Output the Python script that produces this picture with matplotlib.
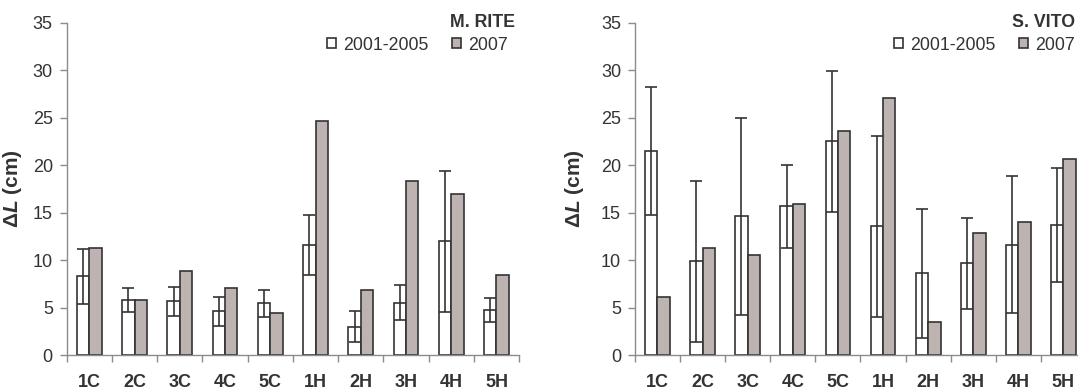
import numpy as np
import matplotlib
matplotlib.use("Agg")
from matplotlib import pyplot as plt
from matplotlib.patches import Patch

plt.rcParams["font.family"] = ["Liberation Sans", "DejaVu Sans"]
plt.rcParams["mathtext.fontset"] = "custom"
plt.rcParams["mathtext.it"] = "Liberation Sans:bold:italic"
plt.rcParams["mathtext.rm"] = "Liberation Sans:bold"

categories = ["1C", "2C", "3C", "4C", "5C", "1H", "2H", "3H", "4H", "5H"]
series_labels = ["2001-2005", "2007"]

# M. RITE
rite_mean = [8.3, 5.8, 5.65, 4.6, 5.45, 11.6, 3.0, 5.5, 11.95, 4.75]
rite_sd = [2.9, 1.3, 1.55, 1.5, 1.4, 3.15, 1.6, 1.85, 7.4, 1.25]
rite_2007 = [11.25, 5.8, 8.8, 7.05, 4.4, 24.6, 6.85, 18.3, 16.9, 8.45]

# S. VITO
vito_mean = [21.45, 9.85, 14.6, 15.65, 22.5, 13.55, 8.6, 9.65, 11.6, 13.7]
vito_sd = [6.75, 8.45, 10.4, 4.4, 7.4, 9.5, 6.8, 4.8, 7.2, 6.0]
vito_2007 = [6.15, 11.25, 10.55, 15.85, 23.55, 27.1, 3.5, 12.85, 14.05, 20.6]

panels = [("M. RITE", rite_mean, rite_sd, rite_2007),
          ("S. VITO", vito_mean, vito_sd, vito_2007)]

gray_fill = "#bdb4b1"
edge = "#333333"
spine = "#8c8c8c"
txt = "#333333"

fig = plt.figure(figsize=(10.78, 3.90), dpi=100)

# axes boxes, title / legend anchors and y-label x, in figure fractions
layout = [
    dict(box=[0.0619, 0.0897, 0.4196, 0.8526], title_x=0.4777, legend_x=0.4712, ylab_x=0.0218),
    dict(box=[0.5890, 0.0897, 0.4184, 0.8526], title_x=0.9972, legend_x=0.9972, ylab_x=0.5440),
]

w = 0.275
x = np.arange(len(categories))

for lay, (name, mean, sd, y07) in zip(layout, panels):
    ax = fig.add_axes(lay["box"])
    ax.bar(x - w / 2, mean, w, color="white", edgecolor=edge, linewidth=1.2, zorder=2)
    ax.bar(x + w / 2, y07, w, color=gray_fill, edgecolor=edge, linewidth=1.2, zorder=2)
    ax.errorbar(x - w / 2, mean, yerr=sd, fmt="none", ecolor=edge,
                elinewidth=1.2, capsize=4.3, capthick=1.2, zorder=3)

    ax.set_xlim(-0.5, len(categories) - 0.5)
    ax.set_ylim(0, 35)
    ax.set_yticks(np.arange(0, 36, 5))
    ax.set_xticks(x)
    ax.set_xticklabels(categories, fontweight="bold", fontsize=13, color=txt)
    ax.set_xticks(np.arange(len(categories) + 1) - 0.5, minor=True)
    ax.tick_params(axis="x", which="major", length=0, pad=14)
    ax.tick_params(axis="x", which="minor", length=5, color=spine, width=1)
    ax.tick_params(axis="y", length=5, color=spine, width=1, labelsize=13,
                   labelcolor=txt, pad=5)

    for s in ["top", "right"]:
        ax.spines[s].set_visible(False)
    for s in ["left", "bottom"]:
        ax.spines[s].set_color(spine)
        ax.spines[s].set_linewidth(1)

    ax.set_ylabel(r"$\mathit{\Delta L}$ (cm)", fontsize=15, fontweight="bold", color=txt)
    ax.yaxis.set_label_coords(lay["ylab_x"], 0.5167, transform=fig.transFigure)

    fig.text(lay["title_x"], 0.9418, name, ha="right", va="center",
             fontsize=12.8, fontweight="bold", color=txt)
    handles = [Patch(facecolor="white", edgecolor=edge, linewidth=1.2),
               Patch(facecolor=gray_fill, edgecolor=edge, linewidth=1.2)]
    ax.legend(handles, series_labels, ncol=2, loc="center right",
              bbox_to_anchor=(lay["legend_x"], 0.8846), bbox_transform=fig.transFigure,
              frameon=False, fontsize=12.8,
              handlelength=0.47, handleheight=0.47, handletextpad=0.43,
              columnspacing=1.33, borderpad=0, borderaxespad=0,
              labelcolor=txt)

fig.savefig("out.png", dpi=100)
